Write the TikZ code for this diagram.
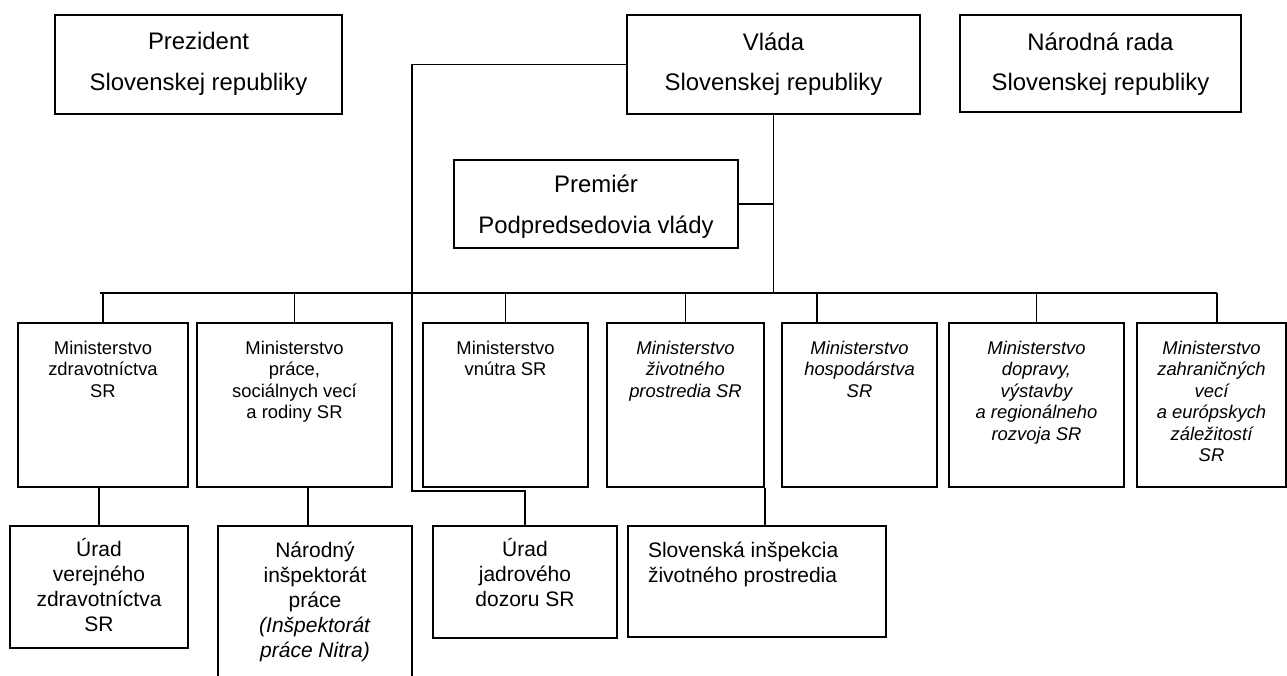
\documentclass[tikz,border=0pt]{standalone}
\usepackage{fontspec}
\setmainfont{Liberation Sans}
\usepackage{tikz}
\usetikzlibrary{positioning}

\begin{document}
\begin{tikzpicture}[x=1pt, y=-1pt, line width=1.6pt,
    orgbox/.style={draw, inner sep=0pt},
    toptext/.style={font=\fontsize{23.9}{40.5}\selectfont, align=center, inner sep=0pt},
    mintext/.style={font=\fontsize{18.4}{21.5}\selectfont, align=center, inner sep=0pt},
    mintextit/.style={mintext, font=\fontsize{18.4}{21.5}\selectfont\itshape},
    subtext/.style={font=\fontsize{21}{25}\selectfont, align=center, inner sep=0pt}]
        \useasboundingbox (0,0) rectangle (1287,675);
        \clip (0,0) rectangle (1287,675);
        % top row
        \node[orgbox, minimum width=287pt, minimum height=99pt] (prez) at (198.5,64.5) {};
        \node[toptext, below=17.6pt of prez.north] (prezt) {Prezident\\Slovenskej republiky};
        \node[orgbox, minimum width=293pt, minimum height=99pt] (vlada) at (773.5,64.5) {};
        \node[toptext, below=17.6pt of vlada.north] (vladat) {Vláda\\Slovenskej republiky};
        \node[orgbox, minimum width=281pt, minimum height=97pt] (nrsr) at (1100.5,63.5) {};
        \node[toptext, below=17.6pt of nrsr.north] (nrsrt) {Národná rada\\Slovenskej republiky};
        \node[orgbox, minimum width=284pt, minimum height=88pt] (prem) at (596,204) {};
        \node[toptext, below=15pt of prem.north] (premt) {Premiér\\Podpredsedovia vlády};
        % ministerstva
        \node[orgbox, minimum width=170pt, minimum height=164pt] (mzdr) at (103,405) {};
        \node[mintext, below=18pt of mzdr.north] (mzdrt) {Ministerstvo\\zdravotníctva\\SR};
        \node[orgbox, minimum width=195pt, minimum height=164pt] (mprac) at (294.5,405) {};
        \node[mintext, below=18pt of mprac.north] (mpract) {Ministerstvo\\práce,\\sociálnych vecí\\a rodiny SR};
        \node[orgbox, minimum width=165pt, minimum height=164pt] (mvnu) at (505.5,405) {};
        \node[mintext, below=18pt of mvnu.north] (mvnut) {Ministerstvo\\vnútra SR};
        \node[orgbox, minimum width=157pt, minimum height=164pt] (mziv) at (685.5,405) {};
        \node[mintextit, below=18pt of mziv.north] (mzivt) {Ministerstvo\\životného\\prostredia SR};
        \node[orgbox, minimum width=155pt, minimum height=164pt] (mhosp) at (859.5,405) {};
        \node[mintextit, below=18pt of mhosp.north] (mhospt) {Ministerstvo\\hospodárstva\\SR};
        \node[orgbox, minimum width=175pt, minimum height=164pt] (mdop) at (1036.5,405) {};
        \node[mintextit, below=18pt of mdop.north] (mdopt) {Ministerstvo\\dopravy,\\výstavby\\a regionálneho\\rozvoja SR};
        \node[orgbox, minimum width=149pt, minimum height=164pt] (mzahr) at (1211.5,405) {};
        \node[mintextit, below=18pt of mzahr.north] (mzahrt) {Ministerstvo\\zahraničných\\vecí\\a európskych\\záležitostí\\SR};
        % urady
        \node[orgbox, minimum width=178pt, minimum height=122pt] (uvz) at (99,587) {};
        \node[subtext, below=12.5pt of uvz.north] (uvzt) {Úrad\\verejného\\zdravotníctva\\SR};
        \node[orgbox, minimum width=194pt, minimum height=174pt] (nip) at (315,613) {};
        \node[subtext, below=16pt of nip.north] (nipt) {Národný\\inšpektorát\\práce\\\textit{(Inšpektorát}\\\textit{práce Nitra)}};
        \node[orgbox, minimum width=184pt, minimum height=112pt] (ujd) at (525,582) {};
        \node[subtext, below=12.5pt of ujd.north] (ujdt) {Úrad\\jadrového\\dozoru SR};
        \node[orgbox, minimum width=258pt, minimum height=111pt] (sizp) at (757,581.5) {};
        \node[subtext, align=left, below right=16pt and 20pt of sizp.north west] (sizpt) {Slovenská inšpekcia\\životného prostredia};
        % spojnice
        \coordinate (busL) at (100,293);
        \coordinate (busR) at (1217,293);
        \coordinate (jturn) at (412,491);
        \draw (busL) -- (busR);
        \draw (vlada.south) -- (vlada.south |- busL);
        \draw (prem.east) -- (prem.east -| vlada.south);
        \foreach \m in {mzdr, mprac, mvnu, mziv, mdop}
            \draw (\m.north) -- (\m.north |- busL);
        \draw ([xshift=36pt]mhosp.north west) -- ([xshift=36pt]mhosp.north west |- busL);
        \draw (busR) -- (busR |- mzahr.north);
        \draw (mzdr.south -| uvz.north) -- (uvz.north);
        \draw ([xshift=-7pt]nip.north) -- ([xshift=-7pt]nip.north |- mprac.south);
        \draw (vlada.west) -| (jturn) -| (ujd.north);
        \draw (mziv.south east) -- (mziv.south east |- sizp.north);
    \end{tikzpicture}
\end{document}
